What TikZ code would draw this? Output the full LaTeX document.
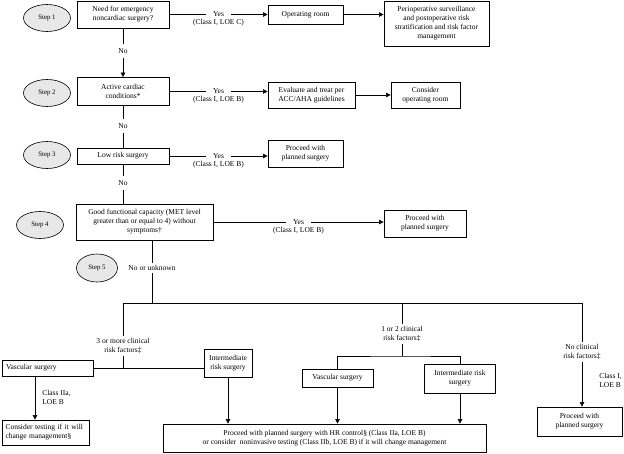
\documentclass[tikz,border=0pt]{standalone}
\usepackage{fontspec}
\setmainfont{Liberation Serif}
\usetikzlibrary{shapes.geometric,arrows.meta,positioning}

\begin{document}
\begin{tikzpicture}[x=1pt,y=-1pt,line width=0.6pt,
    font=\fontsize{7.5}{9}\selectfont,
    box/.style={draw,line width=0.8pt,align=center,inner sep=1pt},
    stepoval/.style={ellipse,draw,fill=gray!18,minimum width=47pt,minimum height=27pt,inner sep=0pt,font=\fontsize{6.8}{8}\selectfont},
    lbl/.style={align=center,inner sep=2.5pt},
    yes/.style={fill=white,inner xsep=7pt,inner ysep=1pt},
    arr/.style={-{Triangle[length=4.5pt,width=4.5pt]}}]
\useasboundingbox (0,0) rectangle (624,453);

% step 1
\node[stepoval] (s1) at (47,18) {Step 1};
\node[box,minimum width=92pt,minimum height=27pt] (q1) at (123,14.5) {Need for emergency\\noncardiac surgery?};
\node[box,minimum width=75pt,minimum height=19pt] (or1) at (305.5,14.5) {Operating room};
\node[box,minimum width=105pt,minimum height=45pt] (peri) at (436.5,23.5) {Perioperative surveillance\\and postoperative risk\\stratification and risk factor\\management};
\draw[arr] (q1) -- node[yes] (y1) {Yes} (or1);
\node[lbl,inner sep=0pt,below=1pt of y1] (c1) {(Class I, LOE C)};
\draw[arr] (or1.east) -- (or1.east -| peri.west);

% step 2
\node[stepoval] (s2) at (47,93) {Step 2};
\node[box,minimum width=92pt,minimum height=28pt] (q2) at (123,91.5) {Active cardiac\\conditions*};
\node[box,minimum width=87pt,minimum height=26pt] (ev) at (311.5,95) {Evaluate and treat per\\ACC/AHA guidelines};
\node[box,minimum width=69pt,minimum height=26pt] (cor) at (425.5,95) {Consider\\operating room};
\node[lbl,inner sep=4pt] (n1) at (123,51) {No};
\draw[arr] (q1) -- (n1) -- (q2);
\draw[arr] (q2.east) -- node[yes] (y2) {Yes} (q2.east -| ev.west);
\node[lbl,inner sep=0pt,below=1pt of y2] (c2) {(Class I, LOE B)};
\draw[arr] (ev) -- (cor);

% step 3
\node[stepoval] (s3) at (47,155) {Step 3};
\node[box,minimum width=92pt,minimum height=16pt] (q3) at (123,156) {Low risk surgery};
\node[box,minimum width=75pt,minimum height=27pt] (p3) at (305.5,153.5) {Proceed with\\planned surgery};
\node[lbl,inner sep=4pt] (n2) at (123,126) {No};
\draw (q2) -- (n2) -- (q3);
\draw[arr] (q3.east) -- node[yes] (y3) {Yes} (q3.east -| p3.west);
\node[lbl,inner sep=0pt,below=1pt of y3] (c3) {(Class I, LOE B)};

% step 4
\node[stepoval] (s4) at (40,225) {Step 4};
\node[box,minimum width=137pt,minimum height=36pt] (q4) at (144.5,222) {Good functional capacity (MET level\\greater than or equal to 4) without\\symptoms†};
\node[box,minimum width=82pt,minimum height=27pt] (p4) at (425,223.5) {Proceed with\\planned surgery};
\node[lbl,inner sep=4pt] (n3) at (123,183) {No};
\draw (q3) -- (n3) -- (n3 |- q4.north);
\draw[arr] (q4.east) -- node[yes] (y4) {Yes} (q4.east -| p4.west);
\node[lbl,inner sep=0pt,below=1pt of y4] (c4) {(Class I, LOE B)};

% step 5
\node[stepoval,minimum width=41pt,minimum height=28pt] (s5) at (97,268) {Step 5};
\node[lbl,fill=white] (nou) at (152,268) {No or unknown};
\coordinate (sp) at (152,303);
\draw (q4.south -| nou) -- (nou) -- (sp);

\node[lbl] (rf3) at (123,346) {3 or more clinical\\risk factors‡};
\node[lbl] (rf12) at (402,334) {1 or 2 clinical\\risk factors‡};
\node[lbl] (rf0) at (582,352) {No clinical\\risk factors‡};
\draw (rf3 |- sp) -- (rf0 |- sp);

% 3 or more
\node[box,minimum width=91pt,minimum height=16pt,text width=83pt,inner xsep=4pt,align=left] (vs1) at (47.5,368) {Vascular surgery};
\node[box,minimum width=48pt,minimum height=28pt] (im1) at (228,363) {Intermediate\\risk surgery};
\node[box,minimum width=87pt,minimum height=25pt,text width=80pt,inner xsep=3.5pt,align=left] (ct) at (45.5,432.5) {Consider testing if it will\\change management§};
\node[lbl,inner sep=0pt,align=left,anchor=west] (cl1) at (42,397) {Class IIa,\\LOE B};
\draw (rf3 |- sp) -- (rf3) -- (rf3 |- vs1.east);
\draw (vs1.east) -- (vs1.east -| im1.west);
\draw[arr] ([xshift=-12.5pt]vs1.south) -- ([xshift=-12.5pt]vs1.south |- ct.north);

% 1 or 2
\node[box,minimum width=323pt,minimum height=28pt] (big) at (324.5,438) {Proceed with planned surgery with HR control§ (Class IIa, LOE B)\\or consider\ \ noninvasive testing (Class IIb, LOE B) if it will change management};
\node[box,minimum width=71pt,minimum height=18pt] (vs2) at (337.5,378) {Vascular surgery};
\node[box,minimum width=71pt,minimum height=29pt] (im2) at (460,378.5) {Intermediate risk\\surgery};
\coordinate (j2) at (402,356);
\draw (rf12 |- sp) -- (rf12) -- (j2);
\draw (vs2.north) |- (j2) -| (im2.north);
\draw[arr] (im1.south) -- (im1.south |- big.north);
\draw[arr] (vs2.south) -- (vs2.south |- big.north);
\draw[arr] (im2.south) -- (im2.south |- big.north);

% none
\node[box,minimum width=85pt,minimum height=29pt] (fin) at (579.5,421.5) {Proceed with\\planned surgery};
\node[lbl,inner sep=0pt,align=left,anchor=west] (cl0) at (599,380) {Class I,\\LOE B};
\draw[arr] (rf0 |- sp) -- (rf0) -- (rf0 |- fin.north);
\end{tikzpicture}
\end{document}
